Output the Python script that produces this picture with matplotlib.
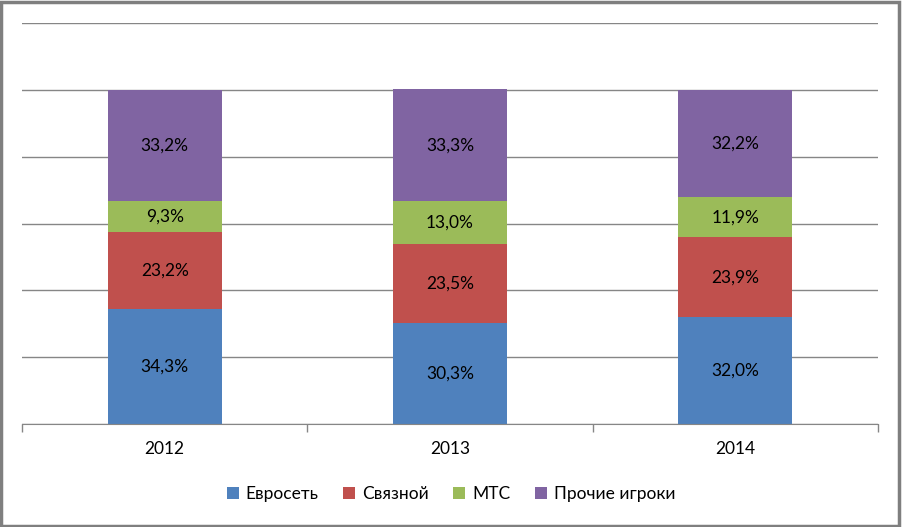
import numpy as np
import matplotlib.pyplot as plt
from matplotlib.patches import Rectangle

years = ['2012', '2013', '2014']
series = ['Евросеть', 'Связной', 'МТС', 'Прочие игроки']
evroset = [34.3, 30.3, 32.0]
svyaznoy = [23.2, 23.5, 23.9]
mts = [9.3, 13.0, 11.9]
prochie = [33.2, 33.3, 32.2]
colors = ['#4F81BD', '#C0504D', '#9BBB59', '#8064A2']

plt.rcParams['font.family'] = ['Lato', 'DejaVu Sans']

fig = plt.figure(figsize=(9.02, 5.27), dpi=100)
ax = fig.add_axes([22/902, 1-424/527, (878-22)/902, (424-23)/527])

x = np.arange(len(years))
bottom = np.zeros(len(years))
handles = []
for vals, name, col in zip([evroset, svyaznoy, mts, prochie], series, colors):
    v = np.array(vals)
    b = ax.bar(x, v, 0.4, bottom=bottom, color=col, label=name, zorder=3)
    handles.append(b)
    for xi, bi, vi in zip(x, bottom, v):
        ax.text(xi, bi + vi/2, f'{vi:.1f}%'.replace('.', ','), ha='center', va='center',
                fontsize=12.5, color='black', zorder=4)
    bottom += v

ax.set_xlim(-0.5, 2.5)
ax.set_ylim(0, 120)
ax.set_yticks(np.arange(0, 121, 20))
ax.yaxis.grid(True, color='#868686', linewidth=1, zorder=0)
ax.tick_params(axis='y', left=False, labelleft=False)
for s in ['left', 'right', 'top']:
    ax.spines[s].set_visible(False)
ax.spines['bottom'].set_color('#868686')
ax.spines['bottom'].set_zorder(5)

ax.set_xticks(x)
ax.set_xticklabels(years, fontsize=12.5)
ax.tick_params(axis='x', which='major', length=0, pad=12)
ax.set_xticks([-0.5, 0.5, 1.5, 2.5], minor=True)
ax.tick_params(axis='x', which='minor', length=6, color='#868686', width=1, direction='out')

fig.legend(handles=handles, labels=series, loc='center', bbox_to_anchor=(0.5, 1-494/527),
           ncol=4, frameon=False, fontsize=12.5, handlelength=0.7, handleheight=0.7,
           columnspacing=1.4, handletextpad=0.4)

fig.patches.append(Rectangle((0.001, 0.002), 0.996, 0.995, transform=fig.transFigure,
                             fill=False, edgecolor='#7F7F7F', linewidth=2.5))

fig.savefig('out.png', dpi=100)
